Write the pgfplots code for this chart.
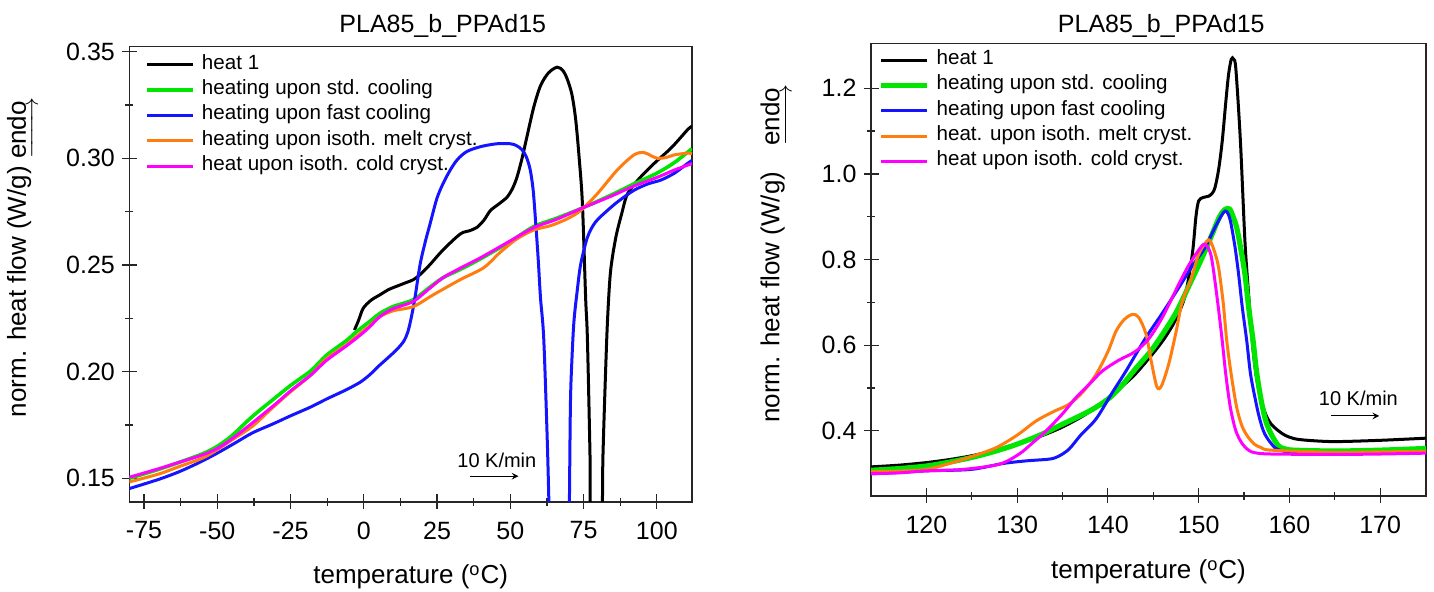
\documentclass[border=0pt]{standalone}
\usepackage{amsmath}
\usepackage{fontspec}
\setmainfont{Liberation Sans}
\usepackage{pgfplots}
\pgfplotsset{compat=1.18}

\definecolor{cgreen}{RGB}{0,230,0}
\definecolor{cblue}{RGB}{20,20,255}
\definecolor{corange}{RGB}{255,125,15}
\definecolor{cmag}{RGB}{255,0,255}

\pgfplotsset{
  dscstyle/.style={
    scale only axis,
    tick align=center,
    major tick length=7.5pt,
    minor tick length=4pt,
    xtick pos=bottom, ytick pos=left,
    minor x tick num=1, minor y tick num=1,
    axis line style={line width=0.7pt, black!85},
    major tick style={line width=0.6pt, black!85},
    minor tick style={line width=0.6pt, black!85},
    /pgf/number format/assume math mode=true,
    tick label style={font=\fontsize{12.5}{14}\selectfont},
    xticklabel style={yshift=-2.5pt},
    label style={font=\fontsize{13}{15}\selectfont},
    title style={font=\fontsize{12.5}{14}\selectfont, anchor=center},
    legend cell align=left,
    legend image code/.code={\draw[##1] (0pt,0pt) -- (23pt,0pt);},
    legend style={draw=none, fill=none, anchor=north west, inner sep=0pt,
      row sep=0pt, font=\fontsize{10.3}{12}\selectfont,
      nodes={inner sep=0pt, text height=8.5pt, text depth=4.15pt},
      /tikz/every odd column/.append style={column sep=3.5pt}},
    every axis plot/.append style={smooth, line width=1.5pt},
  }
}

\begin{document}
\begin{tikzpicture}
\path[use as bounding box] (0pt,0pt) rectangle (717pt,296pt);

% ---------------- left panel ----------------
\begin{axis}[dscstyle,
  at={(64.7pt,45pt)}, anchor=south west, width=281.3pt, height=227.65pt,
  xmin=-80, xmax=112, ymin=0.1389, ymax=0.3523,
  xtick={-75,-50,-25,0,25,50,75,100},
  ytick={0.15,0.20,0.25,0.30,0.35},
  yticklabel style={/pgf/number format/.cd, fixed, fixed zerofill, precision=2},
  title={PLA85\_b\_PPAd15},
  title style={at={(axis description cs:0.557,1)}, yshift=4.5pt},
  xlabel={temperature (\textsuperscript{o}C)},
  xlabel style={at={(axis description cs:0.5,0)}, anchor=center, yshift=-37.5pt},
  ylabel={norm. heat flow (W/g) $\underrightarrow{\text{endo}\,}$},
  ylabel style={at={(axis description cs:-0.19,0.538)}, anchor=center},
  legend style={at={(axis description cs:0,1)}, xshift=7.8pt, yshift=-2.6pt},
]
\addplot[black] coordinates {
(-3.2,0.2195) (-1.8,0.2240) (-0.2,0.2297) (2.5,0.2335) (5.5,0.2360) (8.5,0.2385)
(11.2,0.2400) (14,0.2415) (16.9,0.2431) (19.2,0.2455) (22.6,0.2502) (27,0.2570)
(32.9,0.2645) (36,0.2660) (38.6,0.2676) (41,0.2710) (43.2,0.2755) (46,0.2785)
(48.9,0.2818) (50.8,0.2860) (52.3,0.2913) (54,0.3000) (55.7,0.3103) (58,0.3240)
(60.3,0.3340) (63,0.3400) (66,0.3427) (68,0.3410) (69.4,0.3372) (71,0.3300)
(72.3,0.3182) (73.5,0.3000) (74.6,0.2787) (75.7,0.2345) (76.3,0.2155) (77.2,0.16)
(77.6,0.12) (81.0,0.12) (81.6,0.16) (82.5,0.1997) (83.2,0.225) (84.2,0.2470)
(86,0.2629) (88,0.2740) (90,0.2834) (94,0.2905) (99.1,0.2976) (105,0.3050)
(110.5,0.3134) (112,0.3150)};
\addlegendentry{heat 1}
\addplot[cgreen, line width=1.8pt] coordinates {
(-80,0.1500) (-70,0.1542) (-63,0.1575) (-55,0.1615) (-50,0.1650) (-45,0.1700)
(-38,0.1790) (-30,0.1880) (-25,0.1935) (-18,0.2005) (-12.8,0.2076) (-6,0.2145)
(-2.5,0.2187) (2,0.2235) (5.5,0.2273) (10,0.2305) (16.9,0.2337) (22,0.2390)
(27,0.2440) (32.9,0.2479) (40,0.2530) (50,0.2610) (58,0.2680) (66,0.2720)
(75.1,0.2770) (84,0.2825) (92.2,0.2880) (100,0.2930) (106,0.2980) (112,0.3045)};
\addlegendentry{heating upon std. cooling}
\addplot[cblue] coordinates {
(-80,0.1452) (-70,0.1495) (-63,0.1531) (-56,0.1575) (-50,0.1618) (-44,0.1665)
(-38,0.1713) (-31,0.1755) (-25.3,0.1791) (-18,0.1835) (-12.8,0.1871) (-6,0.1915)
(-1.3,0.1950) (2,0.1985) (5,0.2025) (8,0.2062) (11,0.2100) (13.5,0.2140)
(15,0.2185) (16.3,0.2260) (17.5,0.2350) (19.2,0.2502) (21,0.2610) (22.6,0.2692) (24.9,0.2810)
(27,0.2880) (29.5,0.2945) (32,0.2995) (35.2,0.3032) (40,0.3055) (45.4,0.3068)
(50,0.3068) (52,0.3060) (54,0.3040) (55.5,0.3005) (56.8,0.2945) (57.8,0.2850)
(58.6,0.2708) (59.5,0.2530) (60.3,0.2345) (61.4,0.2155) (62.6,0.1680) (63.3,0.13)
(63.6,0.10) (69.8,0.10) (70.1,0.13) (70.5,0.1840) (71.0,0.2050) (71.7,0.2234)
(72.8,0.2376) (74,0.2502) (76.3,0.2629) (79,0.2700) (83.1,0.2755) (87,0.2800)
(92.2,0.2850) (97,0.2880) (101.4,0.2898) (106,0.2930) (110.5,0.2976) (112,0.2990)};
\addlegendentry{heating upon fast cooling}
\addplot[corange] coordinates {
(-80,0.1483) (-70,0.1520) (-63,0.1555) (-55,0.1595) (-50,0.1634) (-45,0.1680)
(-38,0.1744) (-32,0.1820) (-25.3,0.1902) (-18,0.1985) (-12.8,0.2060) (-6,0.2125)
(-1.3,0.2179) (2,0.2215) (5.5,0.2258) (10,0.2285) (16.9,0.2305) (23.7,0.2360)
(32.9,0.2431) (40.9,0.2487) (46.6,0.2560) (52,0.2620) (58,0.2664) (63.7,0.2684)
(69.4,0.2716) (74,0.2755) (79.7,0.2834) (86.5,0.2945) (92.2,0.3016) (95.6,0.3027)
(98,0.3012) (100.2,0.3000) (103,0.3003) (106,0.3016) (110.5,0.3024) (112,0.3022)};
\addlegendentry{heating upon isoth. melt cryst.}
\addplot[cmag] coordinates {
(-80,0.1505) (-70,0.1545) (-63,0.1575) (-55,0.1610) (-50,0.1640) (-45,0.1685)
(-38,0.1760) (-30,0.1850) (-25,0.1910) (-18,0.1985) (-12.8,0.2052) (-6,0.2120)
(-1.3,0.2170) (2,0.2210) (5.5,0.2258) (10,0.2295) (16.9,0.2329) (22,0.2385)
(27,0.2440) (32.9,0.2485) (40,0.2535) (50,0.2613) (58,0.2675) (66,0.2715)
(75.1,0.2770) (84,0.2820) (92.2,0.2870) (100,0.2910) (106,0.2945) (112,0.2975)};
\addlegendentry{heat upon isoth. cold cryst.}
\node[font=\fontsize{10}{12}\selectfont] at (axis cs:45.4,0.1585) {10 K/min};
\draw[-stealth, line width=0.5pt] (axis cs:36.3,0.1510) -- (axis cs:52.8,0.1510);
\end{axis}

% ---------------- right panel ----------------
\begin{axis}[dscstyle,
  at={(435.5pt,48pt)}, anchor=south west, width=277.5pt, height=226.35pt,
  xmin=113.9, xmax=175.05, ymin=0.248, ymax=1.305,
  xtick={120,130,140,150,160,170},
  ytick={0.4,0.6,0.8,1.0,1.2},
  yticklabel style={/pgf/number format/.cd, fixed, fixed zerofill, precision=1},
  title={PLA85\_b\_PPAd15},
  title style={at={(axis description cs:0.523,1)}, yshift=2.5pt},
  xlabel={temperature (\textsuperscript{o}C)},
  xlabel style={at={(axis description cs:0.5,0)}, anchor=center, yshift=-38pt},
  ylabel={norm. heat flow (W/g)\quad $\underrightarrow{\text{endo}\,}$},
  ylabel style={at={(axis description cs:-0.171,0.536)}, anchor=center},
  legend style={at={(axis description cs:0,1)}, xshift=3.5pt, yshift=-2pt},
]
\addplot[black] coordinates {
(113.9,0.316) (117,0.320) (120,0.326) (122.5,0.333) (124.9,0.3416) (127.5,0.354)
(129.9,0.369) (132.5,0.387) (134.9,0.408) (137.5,0.438) (139.9,0.474) (141.5,0.503)
(143,0.532) (144.9,0.579) (146.2,0.615) (147.4,0.657) (148.5,0.715) (149.3,0.812)
(149.7,0.90) (150,0.937) (150.5,0.945) (151.1,0.948) (151.5,0.955) (151.8,0.968)
(152.2,1.01) (152.6,1.077) (153,1.17) (153.3,1.233) (153.6,1.268) (153.85,1.268)
(154.1,1.245) (154.6,1.077) (155.1,0.843) (155.5,0.72) (155.9,0.61) (156.3,0.535)
(156.8,0.478) (157.4,0.438) (158,0.4156) (158.8,0.400) (159.5,0.390) (160.5,0.382)
(162,0.378) (165,0.375) (170,0.378) (175.05,0.383)};
\addlegendentry{heat 1}
\addplot[cgreen, line width=2.6pt] coordinates {
(113.9,0.308) (117,0.312) (120,0.318) (122.5,0.327) (125,0.338) (127.5,0.352)
(130,0.369) (132.5,0.390) (135,0.4156) (138,0.4467) (140,0.474) (141.5,0.505)
(143,0.544) (145,0.594) (147.4,0.672) (149,0.742) (150.5,0.810) (151.5,0.860)
(152.3,0.900) (152.9,0.917) (153.4,0.918) (153.8,0.900) (154.2,0.874) (154.6,0.830)
(155.1,0.766) (155.5,0.690) (156,0.610) (156.4,0.535) (156.9,0.470) (157.4,0.423)
(158,0.392) (158.8,0.365) (159.5,0.358) (160.5,0.355) (165,0.353) (170,0.355)
(175.05,0.359)};
\addlegendentry{heating upon std. cooling}
\addplot[cblue] coordinates {
(113.9,0.300) (117,0.303) (120,0.3067) (124.9,0.310) (128.4,0.3237) (131,0.330)
(133.5,0.334) (134.5,0.340) (135.7,0.357) (137,0.390) (138.7,0.428) (140.5,0.490)
(142,0.540) (144.1,0.615) (146,0.675) (147.8,0.734) (149.3,0.785) (150.7,0.828)
(151.8,0.875) (152.7,0.909) (153.1,0.912) (153.5,0.890) (154,0.830) (154.4,0.766)
(154.8,0.690) (155.3,0.610) (155.7,0.535) (156.2,0.478) (156.7,0.430) (157.3,0.392)
(158.4,0.361) (159.5,0.352) (161,0.349) (165,0.348) (170,0.349) (175.05,0.350)};
\addlegendentry{heating upon fast cooling}
\addplot[corange] coordinates {
(113.9,0.305) (117,0.306) (120,0.310) (122.9,0.326) (125,0.340) (127.7,0.361)
(130,0.390) (132.1,0.4233) (134,0.445) (135.7,0.462) (137.2,0.490) (138.7,0.532)
(140,0.585) (140.9,0.633) (141.8,0.660) (142.7,0.672) (143.4,0.665) (144.2,0.626)
(144.8,0.560) (145.4,0.503) (145.9,0.505) (146.7,0.556) (147.5,0.630) (148.2,0.703)
(149.1,0.750) (150,0.812) (150.9,0.843) (151.3,0.843) (151.8,0.815) (152.2,0.781)
(152.7,0.700) (153.1,0.610) (153.6,0.530) (154.2,0.454) (154.8,0.410) (155.5,0.384)
(156.2,0.368) (156.9,0.361) (158,0.355) (165,0.350) (170,0.351) (175.05,0.352)};
\addlegendentry{heat. upon isoth. melt cryst.}
\addplot[cmag] coordinates {
(113.9,0.300) (117,0.302) (120,0.3067) (124,0.310) (128,0.322) (130.2,0.3456)
(131.7,0.372) (133.2,0.400) (135,0.440) (136.5,0.478) (138,0.510) (139.4,0.540)
(141.2,0.565) (143,0.585) (144.5,0.615) (146,0.665) (147.8,0.742) (149,0.790)
(150.4,0.833) (150.9,0.832) (151.3,0.815) (151.6,0.780) (152.1,0.700) (152.6,0.610)
(153.0,0.530) (153.5,0.454) (154.1,0.400) (154.8,0.370) (155.5,0.355) (156.2,0.349)
(158,0.346) (165,0.345) (170,0.346) (175.05,0.348)};
\addlegendentry{heat upon isoth. cold cryst.}
\node[font=\fontsize{10}{12}\selectfont] at (axis cs:167.6,0.476) {10 K/min};
\draw[-stealth, line width=0.5pt] (axis cs:164.6,0.435) -- (axis cs:169.9,0.435);
\end{axis}
\end{tikzpicture}
\end{document}
